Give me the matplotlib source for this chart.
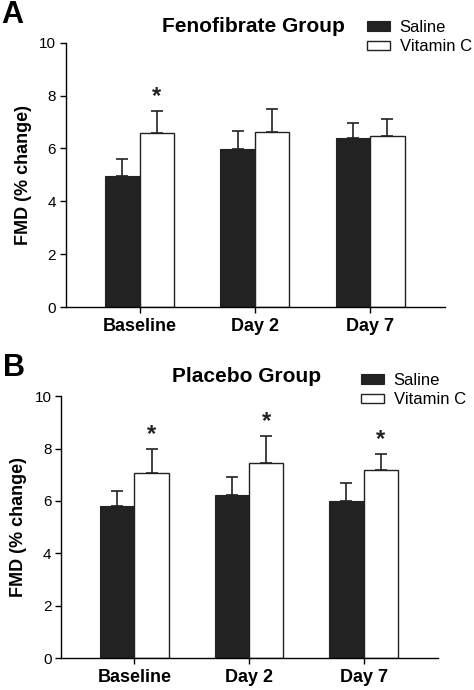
import numpy as np
import matplotlib
matplotlib.use('Agg')
import matplotlib.pyplot as plt

plt.rcParams['font.family'] = ['Liberation Sans', 'DejaVu Sans']

days = ['Baseline', 'Day 2', 'Day 7']
series = ['Saline', 'Vitamin C']

# Fenofibrate group
feno_saline = [4.97, 5.97, 6.38]
feno_saline_err = [0.62, 0.68, 0.58]
feno_vitc = [6.57, 6.63, 6.46]
feno_vitc_err = [0.84, 0.86, 0.65]
feno_sig = [True, False, False]

# Placebo group
plac_saline = [5.81, 6.21, 5.98]
plac_saline_err = [0.57, 0.69, 0.69]
plac_vitc = [7.08, 7.45, 7.17]
plac_vitc_err = [0.89, 1.01, 0.61]
plac_sig = [True, True, True]

dark = '#222222'
w = 0.30


def panel(ax, sal, sal_err, vc, vc_err, sig):
  x = np.arange(len(days))
  ax.bar(x - w/2, sal, w, color=dark, edgecolor=dark, linewidth=0.8, label=series[0],
         yerr=[np.zeros(len(sal)), sal_err], error_kw=dict(ecolor=dark, elinewidth=1.2, capsize=4, capthick=1.2))
  ax.bar(x + w/2, vc, w, color='white', edgecolor=dark, linewidth=1.0, label=series[1],
         yerr=[np.zeros(len(vc)), vc_err], error_kw=dict(ecolor=dark, elinewidth=1.2, capsize=4, capthick=1.2))
  for i in range(len(days)):
    if sig[i]:
      ax.text(x[i] + w/2, vc[i] + vc_err[i] + 0.12, '*', ha='center', va='bottom',
              fontsize=17, fontweight='bold', color=dark)
  ax.set_xlim(-0.64, 2.65)
  ax.set_ylim(0, 10)
  ax.set_yticks([0, 2, 4, 6, 8, 10])
  ax.set_xticks(x)
  ax.set_xticklabels(days, fontsize=13, fontweight='bold')
  ax.tick_params(axis='y', labelsize=11, length=4, width=1, direction='out', pad=3)
  ax.tick_params(axis='x', length=4, width=1, direction='out', pad=4)
  ax.spines['top'].set_visible(False)
  ax.spines['right'].set_visible(False)
  ax.spines['left'].set_linewidth(1.0)
  ax.spines['bottom'].set_linewidth(1.0)
  ax.set_ylabel('FMD (% change)', fontsize=13, fontweight='bold', labelpad=5)


fig = plt.figure(figsize=(4.74, 6.9), dpi=100)
ax1 = fig.add_axes([0.139, 0.555, 0.800, 0.383])
ax2 = fig.add_axes([0.129, 0.046, 0.795, 0.380])

panel(ax1, feno_saline, feno_saline_err, feno_vitc, feno_vitc_err, feno_sig)
panel(ax2, plac_saline, plac_saline_err, plac_vitc, plac_vitc_err, plac_sig)

fig.text(253/474, 1 - 26/690, 'Fenofibrate Group', ha='center', va='center', fontsize=15, fontweight='bold')
fig.text(247/474, 1 - 377/690, 'Placebo Group', ha='center', va='center', fontsize=15, fontweight='bold')
fig.text(1/474, 1 - 15/690, 'A', ha='left', va='center', fontsize=22, fontweight='bold')
fig.text(3/474, 1 - 368/690, 'B', ha='left', va='center', fontsize=22, fontweight='bold')

leg_kw = dict(frameon=False, fontsize=12, handlelength=1.4, handleheight=0.5,
              handletextpad=0.55, labelspacing=0.25, borderaxespad=0, borderpad=0)
ax1.legend(loc='upper left', bbox_to_anchor=(367/474, 1 - 20/690), bbox_transform=fig.transFigure, **leg_kw)
ax2.legend(loc='upper left', bbox_to_anchor=(361/474, 1 - 373/690), bbox_transform=fig.transFigure, **leg_kw)

fig.savefig('out.png', dpi=100)
